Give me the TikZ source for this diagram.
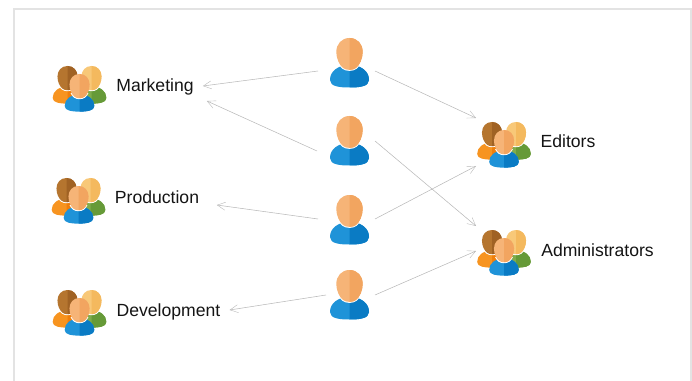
\documentclass[tikz,border=0pt]{standalone}
\usepackage{fontspec}
\setmainfont{Liberation Sans}
\usetikzlibrary{arrows.meta}
\tikzset{
  x=0.75pt,y=-0.75pt,
  conn/.style={draw=black!28,line width=0.4pt,-{Straight Barb[length=6pt,width=6pt,line width=0.3pt]}},
  lab/.style={font=\fontsize{13.2pt}{15pt}\selectfont,text=black!92,inner sep=0pt},
  slot/.style={inner sep=0pt,minimum width=30pt,minimum height=30pt},
  pics/person/.style n args={4}{code={
    \def\bodypath{(0,26) .. controls (-12,28) and (-19.5,33) .. (-19.5,42) .. controls (-19.5,48.5) and (-10,49.5) .. (0,49.5) .. controls (10,49.5) and (19.5,48.5) .. (19.5,42) .. controls (19.5,33) and (12,28) .. (0,26) -- cycle}
    \def\headpath{(0,0) .. controls (-8,0) and (-13.2,6) .. (-13.2,14) .. controls (-13.2,21) and (-10,27) .. (-6.5,30) .. controls (-3,32.5) and (3,32.5) .. (6.5,30) .. controls (10,27) and (13.2,21) .. (13.2,14) .. controls (13.2,6) and (8,0) .. (0,0) -- cycle}
    \fill[#3] \bodypath;
    \begin{scope}
      \clip (0,-2) rectangle (25,55);
      \fill[#4] \bodypath;
    \end{scope}
    \begin{scope}
      \clip (-25,26) rectangle (25,40);
      \draw[white,line width=1.5pt] \headpath;
    \end{scope}
    \fill[#1] \headpath;
    \begin{scope}
      \clip (0,-2) rectangle (25,55);
      \fill[#2] \headpath;
    \end{scope}
  }},
  pics/team/.style={code={
    \pic[scale=.76] at (-12,-46) {person={Brown1}{Brown2}{Or1}{Or2}};
    \pic[scale=.76] at (12,-46) {person={Yel1}{Yel2}{Gr1}{Gr2}};
    \pic[scale=.76] at (0,-38) {person={Sk1}{Sk2}{Bl1}{Bl2}};
  }}
}
\definecolor{Sk1}{HTML}{F6B477}
\definecolor{Sk2}{HTML}{F2A560}
\definecolor{Bl1}{HTML}{1F93D8}
\definecolor{Bl2}{HTML}{0A7BC4}
\definecolor{Brown1}{HTML}{B5752F}
\definecolor{Brown2}{HTML}{A06224}
\definecolor{Or1}{HTML}{F79420}
\definecolor{Or2}{HTML}{EF7F0C}
\definecolor{Yel1}{HTML}{F8C878}
\definecolor{Yel2}{HTML}{F4B95E}
\definecolor{Gr1}{HTML}{80AC4C}
\definecolor{Gr2}{HTML}{669A38}
\begin{document}
\begin{tikzpicture}
\useasboundingbox (0,0) rectangle (692,381);
\draw[draw=black!11,line width=1.5pt] (14,381) -- (14,9) -- (691,9) -- (691,381);

\foreach \n/\px/\py in {p1/349.5/38,p2/349.5/116,p3/349.5/195,p4/349.5/270}{
  \pic at (\px,\py) {person={Sk1}{Sk2}{Bl1}{Bl2}};
  \node[slot] (\n) at (\px,\py+25) {};
}
\foreach \n/\gx/\gy in {mk/79.5/112,pr/78.5/224,de/79.5/336,ed/504/168,ad/504/276}{
  \pic at (\gx,\gy) {team};
  \node[slot] (\n) at (\gx,\gy-23) {};
}
\node[lab] (tmk) at (155,87) {Marketing};
\node[lab] (tpr) at (157,197.5) {Production};
\node[lab] (tde) at (168.5,312) {Development};
\node[lab] (ted) at (568,141.5) {Editors};
\node[lab] (tad) at (597.5,250.5) {Administrators};

\draw[conn] ([shift={(-31.5,8)}]p1.center) -- ([shift={(9,-1)}]tmk.east);
\draw[conn] ([shift={(-32.5,10)}]p2.center) -- ([shift={(13,14)}]tmk.east);
\draw[conn] ([shift={(-31.5,-1)}]p3.center) -- ([shift={(17.5,7.5)}]tpr.east);
\draw[conn] ([shift={(-23.5,0)}]p4.center) -- ([shift={(9,-2)}]tde.east);
\draw[conn] ([shift={(25.5,8)}]p1.center) -- ([shift={(-28,-27)}]ed.center);
\draw[conn] ([shift={(25.5,0)}]p2.center) -- ([shift={(-28,-27)}]ad.center);
\draw[conn] ([shift={(25.5,-1)}]p3.center) -- ([shift={(-28,21)}]ed.center);
\draw[conn] ([shift={(25.5,0)}]p4.center) -- ([shift={(-28,-2)}]ad.center);
\end{tikzpicture}
\end{document}
